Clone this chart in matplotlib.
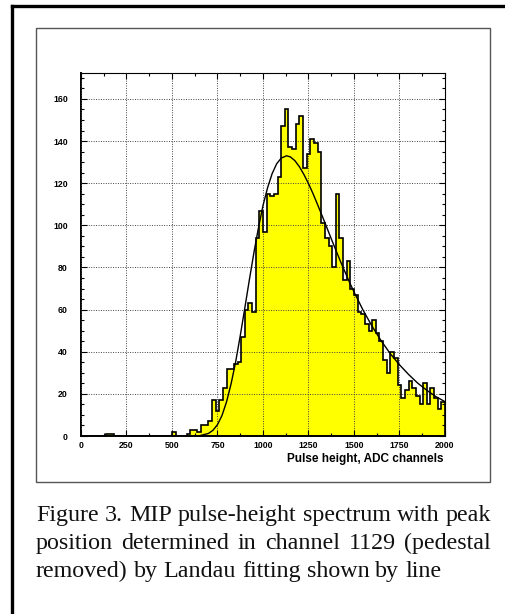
import numpy as np
import matplotlib
matplotlib.use("Agg")
import matplotlib.pyplot as plt
from matplotlib.lines import Line2D
from matplotlib.patches import Rectangle
from matplotlib.ticker import MultipleLocator

# Histogram: 100 bins of 20 ADC channels from 0 to 2000
BIN_WIDTH = 20
counts = [
    0, 0, 0, 0, 0, 0, 0, 1, 1, 0,
    0, 0, 0, 0, 0, 0, 0, 0, 0, 0,
    0, 0, 0, 0, 0, 2, 0, 0, 0, 1,
    3, 3, 2, 5, 5, 7, 17, 12, 17, 23,
    32, 32, 34, 35, 47, 60, 63, 59, 94, 107,
    97, 115, 114, 115, 123, 147, 155, 137, 136, 148,
    152, 127, 134, 141, 139, 135, 101, 94, 90, 80,
    115, 94, 74, 83, 70, 67, 59, 58, 53, 50,
    55, 49, 45, 36, 30, 40, 37, 24, 18, 22,
    26, 23, 19, 15, 25, 15, 23, 18, 13, 16,
]

# Landau fit line
fit_x = [650, 700, 725, 750, 775, 800, 825, 850, 875, 900, 925, 950, 975,
         1000, 1025, 1050, 1075, 1100, 1129, 1150, 1175, 1200, 1225, 1250,
         1275, 1300, 1325, 1350, 1375, 1400, 1425, 1450, 1475, 1500, 1550,
         1600, 1650, 1700, 1750, 1800, 1850, 1900, 1950, 2000]
fit_y = [0.1, 1.2, 2.7, 5.4, 9.8, 16.3, 24.9, 35.3, 47.6, 60.7, 74.1, 87.0,
         98.8, 109.4, 117.8, 124.5, 129.2, 131.9, 133.0, 132.5, 130.7, 127.8,
         124.1, 119.8, 115.0, 109.8, 104.5, 99.1, 93.6, 88.3, 83.0, 78.0,
         73.0, 68.4, 59.7, 52.0, 45.1, 39.0, 33.8, 29.2, 25.1, 21.7, 18.7, 16.3]

x_ticks = [0, 250, 500, 750, 1000, 1250, 1500, 1750, 2000]
y_ticks = [0, 20, 40, 60, 80, 100, 120, 140, 160]
x_label = "Pulse height, ADC channels"
caption = [
    "Figure 3. MIP pulse-height spectrum with peak",
    "position determined in channel 1129 (pedestal",
    "removed) by Landau fitting shown by line",
]

W, H = 506, 614


def fx(px):
    return px / W


def fy(py):
    return 1 - py / H


def draw_justified(fig, line, x0, x1, y, justify=True, **kw):
    """Draw a line of words spread across x0..x1 (figure pixels)."""
    words = line.split()
    renderer = fig.canvas.get_renderer()
    texts = [fig.text(0, fy(y), w, va="baseline", **kw) for w in words]
    widths = [t.get_window_extent(renderer).width for t in texts]
    space = fig.text(0, 0, "a a", **kw)
    s_w = space.get_window_extent(renderer).width
    a = fig.text(0, 0, "aa", **kw)
    s_w -= a.get_window_extent(renderer).width
    space.remove()
    a.remove()
    if justify:
        gap = ((x1 - x0) - sum(widths)) / (len(words) - 1)
    else:
        gap = s_w
    x = x0
    for t, w in zip(texts, widths):
        t.set_x(fx(x))
        x += w + gap


fig = plt.figure(figsize=(W / 100, H / 100), dpi=100)

# outer frame (top and left edges visible) and inner box
fig.add_artist(Line2D([fx(12), fx(W + 5)], [fy(6), fy(6)], color="black", lw=2.4))
fig.add_artist(Line2D([fx(12), fx(12)], [fy(6), fy(H + 5)], color="black", lw=2.4))
fig.add_artist(Rectangle((fx(36), fy(482)), fx(490) - fx(36), fy(28) - fy(482),
                         fill=False, edgecolor="#555555", lw=1.0))

ax = fig.add_axes([fx(81), fy(436), fx(445) - fx(81), fy(73) - fy(436)])

edges = np.arange(0, BIN_WIDTH * (len(counts) + 1), BIN_WIDTH)
ax.stairs(counts, edges, fill=True, color="#ffff00", zorder=1)
ax.stairs(counts, edges, color="black", lw=1.2, zorder=3)
ax.plot(fit_x, fit_y, color="black", lw=1.0, zorder=4)

ax.set_xlim(0, 2000)
ax.set_ylim(0, 172.3)
ax.set_xticks(x_ticks)
ax.set_yticks(y_ticks)
ax.xaxis.set_minor_locator(MultipleLocator(125))
ax.yaxis.set_minor_locator(MultipleLocator(5))
ax.tick_params(which="both", direction="in", top=True, right=True,
               labeltop=False, labelright=False, width=0.8)
ax.tick_params(which="major", length=4.5)
ax.tick_params(which="minor", length=2.5)
ax.tick_params(axis="y", which="major", pad=9.5)
ax.tick_params(axis="x", which="major", pad=3.5)
for lab in ax.get_xticklabels() + ax.get_yticklabels():
    lab.set_fontfamily("Liberation Sans")
    lab.set_fontweight("bold")
    lab.set_fontsize(6.3)

ax.set_axisbelow(False)
ax.grid(True, which="major", linestyle=(0, (1, 1.5)), color="#444444", lw=0.7)
for side in ["left", "bottom"]:
    ax.spines[side].set_linewidth(1.4)
for side in ["top", "right"]:
    ax.spines[side].set_linewidth(0.8)

fig.text(fx(444), fy(459), x_label, ha="right", va="center",
         family="Liberation Sans", fontweight="bold", fontsize=8.5)

# caption, justified like the source document
cap_kw = dict(family="Liberation Serif", fontsize=17.3, color="#111111")
baselines = [521, 549, 577]
for i, (line, yb) in enumerate(zip(caption, baselines)):
    draw_justified(fig, line, 36, 491, yb, justify=(i < len(caption) - 1), **cap_kw)

fig.savefig("out.png", dpi=100)
